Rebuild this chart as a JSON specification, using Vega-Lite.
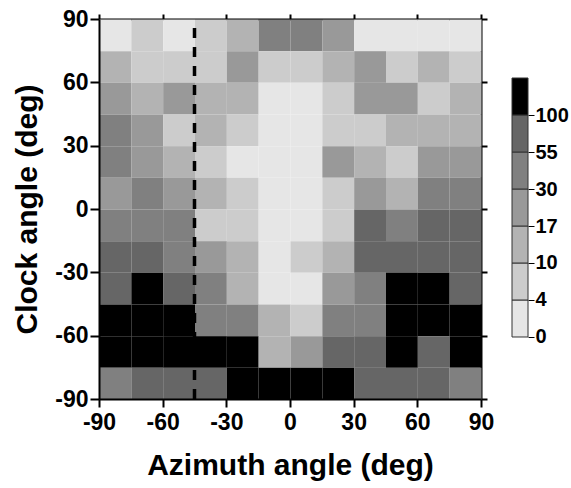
{
  "$schema": "https://vega.github.io/schema/vega-lite/v6.json",
  "background": "white",
  "padding": {"left": 12, "top": 8, "right": 2, "bottom": 2},
  "config": {
    "font": "Liberation Sans",
    "view": {"stroke": null},
    "axis": {
      "labelFont": "Liberation Sans",
      "titleFont": "Liberation Sans",
      "labelFontWeight": "bold",
      "titleFontWeight": "bold",
      "labelColor": "black",
      "titleColor": "black",
      "domainColor": "black",
      "tickColor": "black",
      "grid": false
    }
  },
  "datasets": {
    "cells": [
      {"az": -82.5, "clock": 82.5, "level": "0-4"}, {"az": -67.5, "clock": 82.5, "level": "4-10"}, {"az": -52.5, "clock": 82.5, "level": "0-4"}, {"az": -37.5, "clock": 82.5, "level": "4-10"}, {"az": -22.5, "clock": 82.5, "level": "10-17"}, {"az": -7.5, "clock": 82.5, "level": "30-55"}, {"az": 7.5, "clock": 82.5, "level": "30-55"}, {"az": 22.5, "clock": 82.5, "level": "17-30"}, {"az": 37.5, "clock": 82.5, "level": "0-4"}, {"az": 52.5, "clock": 82.5, "level": "0-4"}, {"az": 67.5, "clock": 82.5, "level": "0-4"}, {"az": 82.5, "clock": 82.5, "level": "0-4"},
      {"az": -82.5, "clock": 67.5, "level": "10-17"}, {"az": -67.5, "clock": 67.5, "level": "4-10"}, {"az": -52.5, "clock": 67.5, "level": "4-10"}, {"az": -37.5, "clock": 67.5, "level": "4-10"}, {"az": -22.5, "clock": 67.5, "level": "17-30"}, {"az": -7.5, "clock": 67.5, "level": "4-10"}, {"az": 7.5, "clock": 67.5, "level": "4-10"}, {"az": 22.5, "clock": 67.5, "level": "10-17"}, {"az": 37.5, "clock": 67.5, "level": "17-30"}, {"az": 52.5, "clock": 67.5, "level": "4-10"}, {"az": 67.5, "clock": 67.5, "level": "10-17"}, {"az": 82.5, "clock": 67.5, "level": "4-10"},
      {"az": -82.5, "clock": 52.5, "level": "17-30"}, {"az": -67.5, "clock": 52.5, "level": "10-17"}, {"az": -52.5, "clock": 52.5, "level": "17-30"}, {"az": -37.5, "clock": 52.5, "level": "10-17"}, {"az": -22.5, "clock": 52.5, "level": "10-17"}, {"az": -7.5, "clock": 52.5, "level": "0-4"}, {"az": 7.5, "clock": 52.5, "level": "0-4"}, {"az": 22.5, "clock": 52.5, "level": "4-10"}, {"az": 37.5, "clock": 52.5, "level": "17-30"}, {"az": 52.5, "clock": 52.5, "level": "17-30"}, {"az": 67.5, "clock": 52.5, "level": "4-10"}, {"az": 82.5, "clock": 52.5, "level": "10-17"},
      {"az": -82.5, "clock": 37.5, "level": "30-55"}, {"az": -67.5, "clock": 37.5, "level": "17-30"}, {"az": -52.5, "clock": 37.5, "level": "4-10"}, {"az": -37.5, "clock": 37.5, "level": "10-17"}, {"az": -22.5, "clock": 37.5, "level": "4-10"}, {"az": -7.5, "clock": 37.5, "level": "0-4"}, {"az": 7.5, "clock": 37.5, "level": "0-4"}, {"az": 22.5, "clock": 37.5, "level": "4-10"}, {"az": 37.5, "clock": 37.5, "level": "4-10"}, {"az": 52.5, "clock": 37.5, "level": "10-17"}, {"az": 67.5, "clock": 37.5, "level": "10-17"}, {"az": 82.5, "clock": 37.5, "level": "10-17"},
      {"az": -82.5, "clock": 22.5, "level": "30-55"}, {"az": -67.5, "clock": 22.5, "level": "17-30"}, {"az": -52.5, "clock": 22.5, "level": "10-17"}, {"az": -37.5, "clock": 22.5, "level": "4-10"}, {"az": -22.5, "clock": 22.5, "level": "0-4"}, {"az": -7.5, "clock": 22.5, "level": "0-4"}, {"az": 7.5, "clock": 22.5, "level": "0-4"}, {"az": 22.5, "clock": 22.5, "level": "17-30"}, {"az": 37.5, "clock": 22.5, "level": "10-17"}, {"az": 52.5, "clock": 22.5, "level": "4-10"}, {"az": 67.5, "clock": 22.5, "level": "17-30"}, {"az": 82.5, "clock": 22.5, "level": "17-30"},
      {"az": -82.5, "clock": 7.5, "level": "17-30"}, {"az": -67.5, "clock": 7.5, "level": "30-55"}, {"az": -52.5, "clock": 7.5, "level": "17-30"}, {"az": -37.5, "clock": 7.5, "level": "10-17"}, {"az": -22.5, "clock": 7.5, "level": "4-10"}, {"az": -7.5, "clock": 7.5, "level": "0-4"}, {"az": 7.5, "clock": 7.5, "level": "0-4"}, {"az": 22.5, "clock": 7.5, "level": "4-10"}, {"az": 37.5, "clock": 7.5, "level": "17-30"}, {"az": 52.5, "clock": 7.5, "level": "10-17"}, {"az": 67.5, "clock": 7.5, "level": "30-55"}, {"az": 82.5, "clock": 7.5, "level": "30-55"},
      {"az": -82.5, "clock": -7.5, "level": "30-55"}, {"az": -67.5, "clock": -7.5, "level": "30-55"}, {"az": -52.5, "clock": -7.5, "level": "30-55"}, {"az": -37.5, "clock": -7.5, "level": "4-10"}, {"az": -22.5, "clock": -7.5, "level": "4-10"}, {"az": -7.5, "clock": -7.5, "level": "0-4"}, {"az": 7.5, "clock": -7.5, "level": "0-4"}, {"az": 22.5, "clock": -7.5, "level": "4-10"}, {"az": 37.5, "clock": -7.5, "level": "55-100"}, {"az": 52.5, "clock": -7.5, "level": "30-55"}, {"az": 67.5, "clock": -7.5, "level": "55-100"}, {"az": 82.5, "clock": -7.5, "level": "55-100"},
      {"az": -82.5, "clock": -22.5, "level": "55-100"}, {"az": -67.5, "clock": -22.5, "level": "55-100"}, {"az": -52.5, "clock": -22.5, "level": "30-55"}, {"az": -37.5, "clock": -22.5, "level": "17-30"}, {"az": -22.5, "clock": -22.5, "level": "10-17"}, {"az": -7.5, "clock": -22.5, "level": "0-4"}, {"az": 7.5, "clock": -22.5, "level": "4-10"}, {"az": 22.5, "clock": -22.5, "level": "10-17"}, {"az": 37.5, "clock": -22.5, "level": "55-100"}, {"az": 52.5, "clock": -22.5, "level": "55-100"}, {"az": 67.5, "clock": -22.5, "level": "55-100"}, {"az": 82.5, "clock": -22.5, "level": "55-100"},
      {"az": -82.5, "clock": -37.5, "level": "55-100"}, {"az": -67.5, "clock": -37.5, "level": ">100"}, {"az": -52.5, "clock": -37.5, "level": "55-100"}, {"az": -37.5, "clock": -37.5, "level": "30-55"}, {"az": -22.5, "clock": -37.5, "level": "10-17"}, {"az": -7.5, "clock": -37.5, "level": "0-4"}, {"az": 7.5, "clock": -37.5, "level": "0-4"}, {"az": 22.5, "clock": -37.5, "level": "17-30"}, {"az": 37.5, "clock": -37.5, "level": "30-55"}, {"az": 52.5, "clock": -37.5, "level": ">100"}, {"az": 67.5, "clock": -37.5, "level": ">100"}, {"az": 82.5, "clock": -37.5, "level": "55-100"},
      {"az": -82.5, "clock": -52.5, "level": ">100"}, {"az": -67.5, "clock": -52.5, "level": ">100"}, {"az": -52.5, "clock": -52.5, "level": ">100"}, {"az": -37.5, "clock": -52.5, "level": "30-55"}, {"az": -22.5, "clock": -52.5, "level": "30-55"}, {"az": -7.5, "clock": -52.5, "level": "10-17"}, {"az": 7.5, "clock": -52.5, "level": "4-10"}, {"az": 22.5, "clock": -52.5, "level": "30-55"}, {"az": 37.5, "clock": -52.5, "level": "30-55"}, {"az": 52.5, "clock": -52.5, "level": ">100"}, {"az": 67.5, "clock": -52.5, "level": ">100"}, {"az": 82.5, "clock": -52.5, "level": ">100"},
      {"az": -82.5, "clock": -67.5, "level": ">100"}, {"az": -67.5, "clock": -67.5, "level": ">100"}, {"az": -52.5, "clock": -67.5, "level": ">100"}, {"az": -37.5, "clock": -67.5, "level": ">100"}, {"az": -22.5, "clock": -67.5, "level": ">100"}, {"az": -7.5, "clock": -67.5, "level": "10-17"}, {"az": 7.5, "clock": -67.5, "level": "17-30"}, {"az": 22.5, "clock": -67.5, "level": "55-100"}, {"az": 37.5, "clock": -67.5, "level": "55-100"}, {"az": 52.5, "clock": -67.5, "level": ">100"}, {"az": 67.5, "clock": -67.5, "level": "55-100"}, {"az": 82.5, "clock": -67.5, "level": ">100"},
      {"az": -82.5, "clock": -82.5, "level": "30-55"}, {"az": -67.5, "clock": -82.5, "level": "55-100"}, {"az": -52.5, "clock": -82.5, "level": "55-100"}, {"az": -37.5, "clock": -82.5, "level": "55-100"}, {"az": -22.5, "clock": -82.5, "level": ">100"}, {"az": -7.5, "clock": -82.5, "level": ">100"}, {"az": 7.5, "clock": -82.5, "level": ">100"}, {"az": 22.5, "clock": -82.5, "level": ">100"}, {"az": 37.5, "clock": -82.5, "level": "55-100"}, {"az": 52.5, "clock": -82.5, "level": "55-100"}, {"az": 67.5, "clock": -82.5, "level": "55-100"}, {"az": 82.5, "clock": -82.5, "level": "30-55"}
    ],
    "legendBands": [
      {"level": "0-4", "lo": 0, "hi": 1},
      {"level": "4-10", "lo": 1, "hi": 2},
      {"level": "10-17", "lo": 2, "hi": 3},
      {"level": "17-30", "lo": 3, "hi": 4},
      {"level": "30-55", "lo": 4, "hi": 5},
      {"level": "55-100", "lo": 5, "hi": 6},
      {"level": ">100", "lo": 6, "hi": 7}
    ]
  },
  "spacing": 17,
  "hconcat": [
    {
      "width": 382,
      "height": 380,
      "layer": [
        {
          "data": {"name": "cells"},
          "mark": {"type": "rect", "binSpacing": 0},
          "encoding": {
            "x": {
              "field": "az", "type": "quantitative",
              "bin": {"step": 15, "extent": [-90, 90]},
              "scale": {"domain": [-90, 90], "nice": false},
              "axis": {
                "orient": "bottom", "values": [-90, -60, -30, 0, 30, 60, 90],
                "labelExpr": "toString(datum.value)",
                "title": "Azimuth angle (deg)", "titleFontSize": 30, "titlePadding": 16,
                "labelFontSize": 23, "labelPadding": 4, "tickSize": 8, "tickWidth": 2,
                "domainWidth": 2, "labelFlush": false, "labelOverlap": false
              }
            },
            "y": {
              "field": "clock", "type": "quantitative",
              "bin": {"step": 15, "extent": [-90, 90]},
              "scale": {"domain": [-90, 90], "nice": false},
              "axis": {
                "orient": "left", "values": [-90, -60, -30, 0, 30, 60, 90],
                "labelExpr": "toString(datum.value)",
                "title": "Clock angle (deg)", "titleFontSize": 30, "titlePadding": 12,
                "labelFontSize": 23, "labelPadding": 2, "tickSize": 9, "tickWidth": 2,
                "domainWidth": 2, "labelFlush": false, "labelOverlap": false
              }
            },
            "color": {
              "field": "level", "type": "nominal",
              "scale": {
                "domain": ["0-4", "4-10", "10-17", "17-30", "30-55", "55-100", ">100"],
                "range": ["#e6e6e6", "#cccccc", "#b3b3b3", "#999999", "#808080", "#666666", "#000000"]
              },
              "legend": null
            }
          }
        },
        {
          "data": {"values": [{"boundary": -45}]},
          "mark": {"type": "rule", "color": "black", "strokeWidth": 3.5, "strokeDash": [10, 9], "strokeDashOffset": 10},
          "encoding": {
            "x": {
              "field": "boundary", "type": "quantitative",
              "scale": {"domain": [-90, 90], "nice": false},
              "axis": {
                "orient": "top", "values": [-90, -60, -30, 0, 30, 60, 90],
                "labels": false, "title": null, "tickSize": 5, "tickWidth": 2, "domainWidth": 2
              }
            },
            "y": {
              "datum": 90, "type": "quantitative",
              "scale": {"domain": [-90, 90], "nice": false},
              "axis": {
                "orient": "right", "values": [-90, -60, -30, 0, 30, 60, 90],
                "labels": false, "title": null, "tickSize": 6, "tickWidth": 2, "domainWidth": 2
              }
            },
            "y2": {"datum": -90}
          }
        }
      ],
      "resolve": {"axis": {"x": "independent", "y": "independent"}}
    },
    {
      "width": 16,
      "height": 380,
      "data": {"name": "legendBands"},
      "mark": {"type": "rect", "stroke": "#333333", "strokeWidth": 1},
      "encoding": {
        "x": {"datum": 0, "type": "quantitative", "scale": {"domain": [0, 1]}, "axis": null},
        "x2": {"datum": 1},
        "y": {
          "field": "lo", "type": "quantitative",
          "scale": {"domain": [-1.676, 8.595], "nice": false, "zero": false},
          "axis": {
            "orient": "right", "values": [0, 1, 2, 3, 4, 5, 6],
            "labelExpr": "['0','4','10','17','30','55','100'][datum.value]",
            "title": null, "domain": false, "tickSize": 6, "tickWidth": 1,
            "labelFontSize": 20, "labelPadding": 1, "labelFlush": false, "labelOverlap": false
          }
        },
        "y2": {"field": "hi"},
        "color": {"field": "level", "type": "nominal", "legend": null}
      }
    }
  ]
}
